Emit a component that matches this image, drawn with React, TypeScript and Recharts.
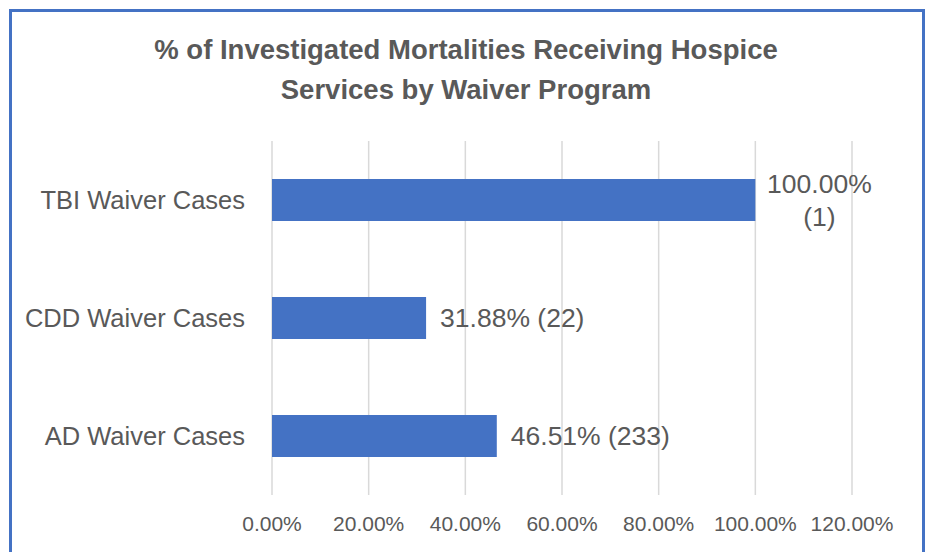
import { BarChart, Bar, XAxis, YAxis, CartesianGrid, LabelList } from "recharts";

const categories = ["TBI Waiver Cases", "CDD Waiver Cases", "AD Waiver Cases"];
const shares = [1.0, 0.3188, 0.4651];
const counts = [1, 22, 233];
const xTicks = [0, 0.2, 0.4, 0.6, 0.8, 1.0, 1.2];

const data = categories.map((name, i) => ({
  name,
  share: shares[i],
  label: `${(shares[i] * 100).toFixed(2)}% (${counts[i]})`,
}));

const TEXT = "#595959";
const FONT = "'Liberation Sans', Arial, sans-serif";

function ValueLabel(props: any) {
  const { x, y, width, height, value } = props;
  const fontSize = 26.5;
  const left = x + width + 14;
  const cy = y + height / 2;
  const approx = String(value).length * fontSize * 0.5;
  // wrap onto two lines when the label would run past the chart edge
  if (left + approx > 900) {
    const [a, b] = String(value).split(" ");
    const w = a.length * fontSize * 0.54;
    const cx = left + w / 2;
    return (
      <text x={cx} y={cy} textAnchor="middle" fill={TEXT} fontSize={fontSize} fontFamily={FONT}>
        <tspan x={cx} dy={-7}>{a}</tspan>
        <tspan x={cx} dy={33}>{b}</tspan>
      </text>
    );
  }
  return (
    <text x={left} y={cy} dy={9} fill={TEXT} fontSize={fontSize} fontFamily={FONT}>
      {value}
    </text>
  );
}

export default function App() {
  return (
    <div style={{ position: "fixed", left: 0, top: 0, width: 925, height: 552, background: "#fff", overflow: "hidden" }}>
      <div
        style={{
          position: "absolute",
          left: 9,
          top: 9,
          width: 916,
          height: 600,
          boxSizing: "border-box",
          border: "3px solid #4472C4",
        }}
      />
      <div
        style={{
          position: "absolute",
          left: 0,
          width: 932,
          top: 30,
          textAlign: "center",
          fontFamily: FONT,
          fontWeight: "bold",
          fontSize: 27.5,
          lineHeight: "40px",
          color: TEXT,
        }}
      >
        % of Investigated Mortalities Receiving Hospice
        <br />
        Services by Waiver Program
      </div>
      <div style={{ position: "absolute", left: 0, top: 0 }}>
        <BarChart
          width={925}
          height={552}
          data={data}
          layout="vertical"
          margin={{ top: 141, right: 73, bottom: 0, left: 0 }}
          barSize={42}
        >
          <CartesianGrid horizontal={false} stroke="#D9D9D9" strokeWidth={1.5} />
          <XAxis
            type="number"
            domain={[0, 1.2]}
            ticks={xTicks}
            tickFormatter={(v: number) => `${(v * 100).toFixed(2)}%`}
            axisLine={false}
            tickLine={false}
            tickSize={0}
            tickMargin={21}
            height={57}
            tick={{ fill: TEXT, fontSize: 21, fontFamily: FONT }}
          />
          <YAxis
            type="category"
            dataKey="name"
            width={272}
            axisLine={false}
            tickLine={false}
            tickSize={0}
            tickMargin={27}
            tick={{ fill: TEXT, fontSize: 25.5, fontFamily: FONT }}
          />
          <Bar dataKey="share" fill="#4472C4" isAnimationActive={false}>
            <LabelList dataKey="label" content={ValueLabel} />
          </Bar>
        </BarChart>
      </div>
    </div>
  );
}
